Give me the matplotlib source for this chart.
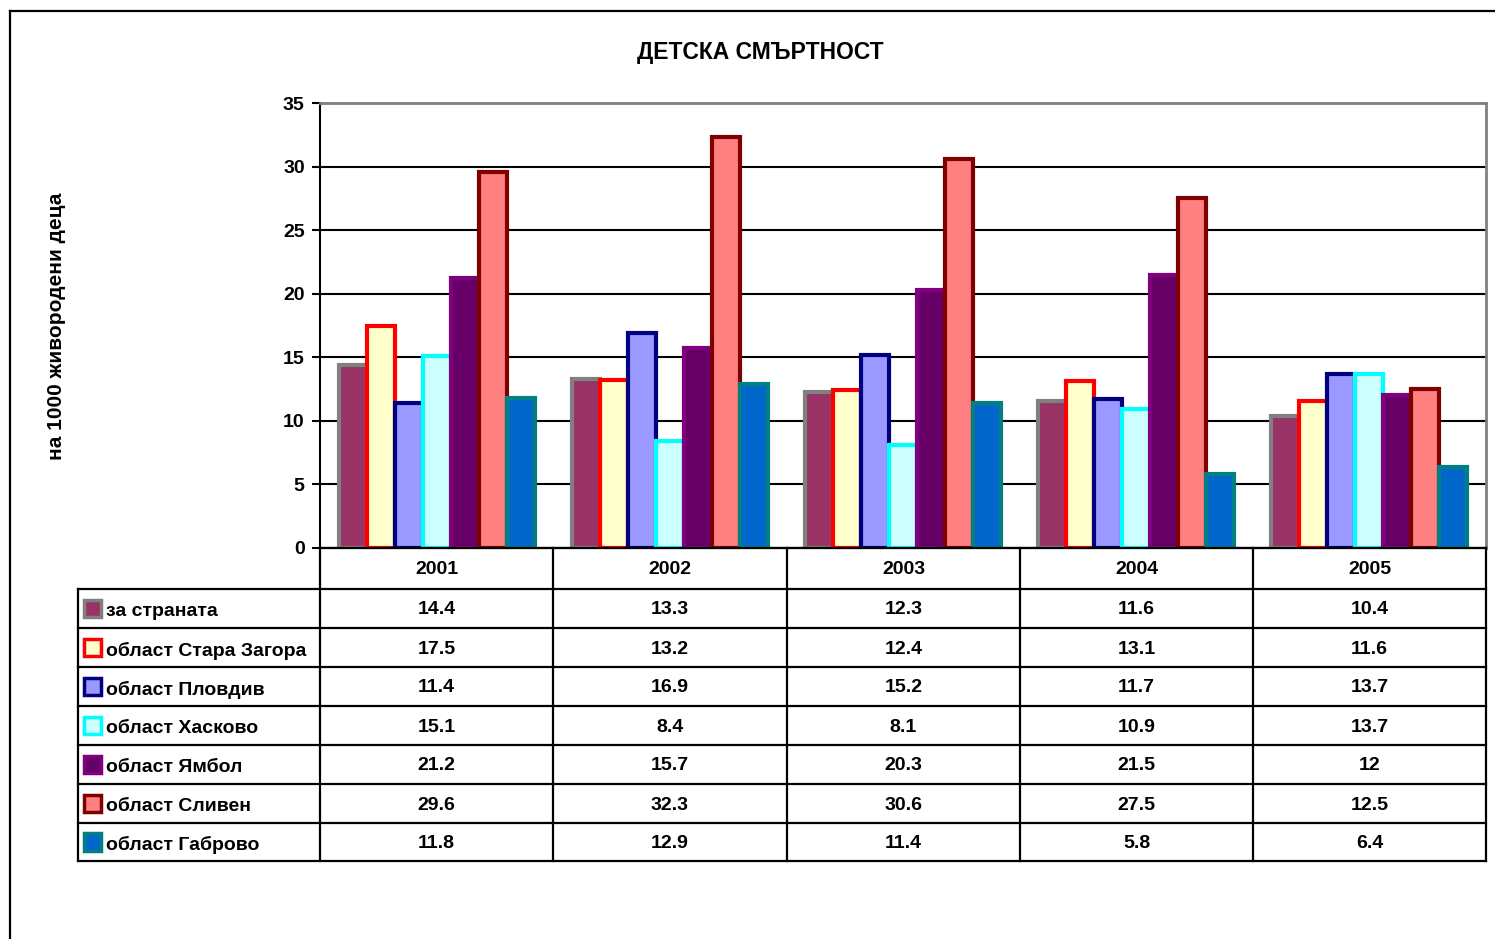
import matplotlib
matplotlib.use("Agg")
import matplotlib.pyplot as plt
from matplotlib.lines import Line2D
from matplotlib.patches import Rectangle

plt.rcParams["font.family"] = ["Liberation Sans Narrow", "Liberation Sans", "DejaVu Sans"]
plt.rcParams["font.weight"] = "bold"

# data
years = ["2001", "2002", "2003", "2004", "2005"]
series_names = [
    "за страната",
    "област Стара Загора",
    "област Пловдив",
    "област Хасково",
    "област Ямбол",
    "област Сливен",
    "област Габрово",
]
national = [14.4, 13.3, 12.3, 11.6, 10.4]
stara_zagora = [17.5, 13.2, 12.4, 13.1, 11.6]
plovdiv = [11.4, 16.9, 15.2, 11.7, 13.7]
haskovo = [15.1, 8.4, 8.1, 10.9, 13.7]
yambol = [21.2, 15.7, 20.3, 21.5, 12]
sliven = [29.6, 32.3, 30.6, 27.5, 12.5]
gabrovo = [11.8, 12.9, 11.4, 5.8, 6.4]
values = [national, stara_zagora, plovdiv, haskovo, yambol, sliven, gabrovo]

face_colors = ["#993366", "#FFFFCC", "#9999FF", "#CCFFFF", "#660066", "#FF8080", "#0066CC"]
edge_colors = ["#808080", "#FF0000", "#000080", "#00FFFF", "#800080", "#800000", "#008080"]

W, H = 1495, 939
fig = plt.figure(figsize=(W / 100, H / 100), dpi=100)


def fx(px):
    return px / W


def fy(py):
    return 1 - py / H


# outer frame (left and top edges visible)
fig.add_artist(Line2D([fx(10), fx(10)], [fy(11), 0], color="black", lw=1.6))
fig.add_artist(Line2D([fx(10), 1], [fy(11), fy(11)], color="black", lw=1.6))

ax_left, ax_right, ax_top, ax_bottom = 320, 1486, 103, 548
ax = fig.add_axes([fx(ax_left), fy(ax_bottom), fx(ax_right - ax_left), fy(ax_top) - fy(ax_bottom)])

bar_w = 0.12
for k, (vals, fc, ec) in enumerate(zip(values, face_colors, edge_colors)):
    xs = [i + 0.5 + (k - 3) * bar_w for i in range(len(years))]
    ax.bar(xs, vals, width=bar_w, color=fc, edgecolor=ec, linewidth=3, zorder=3 + k * 0.01)

ax.set_xlim(0, 5)
ax.set_ylim(0, 35)
ax.set_yticks(range(0, 36, 5))
ax.set_xticks([])
ax.tick_params(axis="y", labelsize=14, length=6, width=1.5, pad=5)
for lbl in ax.get_yticklabels():
    lbl.set_fontweight("bold")
ax.yaxis.grid(True, color="black", linewidth=1.5, zorder=1)
ax.set_axisbelow(True)
ax.spines["top"].set_color("#808080")
ax.spines["right"].set_color("#808080")
ax.spines["top"].set_linewidth(2)
ax.spines["right"].set_linewidth(2)
ax.spines["left"].set_linewidth(1.5)
ax.spines["bottom"].set_linewidth(1.5)

fig.text(fx(760), fy(53), "ДЕТСКА СМЪРТНОСТ", ha="center", va="center",
         fontsize=16.5, fontweight="bold")
fig.text(fx(57), fy(326), "на 1000 живородени деца", ha="center", va="center",
         rotation=90, fontsize=15, fontweight="bold")

# data table
col_x = [320, 553, 787, 1020, 1253, 1486]
row_y = [548, 589, 628, 667, 706, 745, 784, 823, 861]
legend_left = 78
lw = 1.6

# horizontal lines
fig.add_artist(Line2D([fx(col_x[0]), fx(col_x[-1])], [fy(row_y[0])] * 2, color="black", lw=lw))
for y in row_y[1:]:
    fig.add_artist(Line2D([fx(legend_left), fx(col_x[-1])], [fy(y)] * 2, color="black", lw=lw))
# vertical lines
for x in col_x:
    fig.add_artist(Line2D([fx(x)] * 2, [fy(row_y[0]), fy(row_y[-1])], color="black", lw=lw))
fig.add_artist(Line2D([fx(legend_left)] * 2, [fy(row_y[1]), fy(row_y[-1])], color="black", lw=lw))

# header
for i, yr in enumerate(years):
    cx = (col_x[i] + col_x[i + 1]) / 2
    fig.text(fx(cx), fy((row_y[0] + row_y[1]) / 2 + 1.5), yr, ha="center", va="center",
             fontsize=14, fontweight="bold")

# rows
for r, (name, vals, fc, ec) in enumerate(zip(series_names, values, face_colors, edge_colors)):
    y0, y1 = row_y[r + 1], row_y[r + 2]
    cy = (y0 + y1) / 2
    box = 17
    fig.add_artist(Rectangle((fx(84), fy(cy + box / 2)), fx(box), fy(cy - box / 2) - fy(cy + box / 2),
                             facecolor=fc, edgecolor=ec, linewidth=2.5))
    fig.text(fx(106), fy(cy + 3), name, ha="left", va="center", fontsize=14, fontweight="bold")
    for i, v in enumerate(vals):
        cx = (col_x[i] + col_x[i + 1]) / 2
        fig.text(fx(cx), fy(cy + 1.5), f"{v:g}", ha="center", va="center",
                 fontsize=14, fontweight="bold")

fig.savefig("out.png", dpi=100)
